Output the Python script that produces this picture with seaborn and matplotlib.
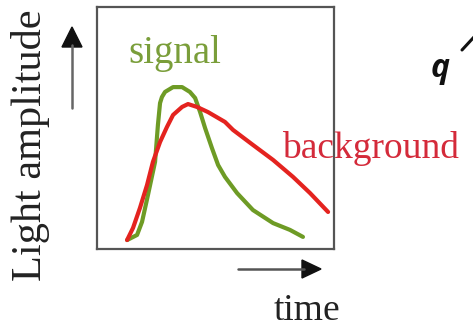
import matplotlib
matplotlib.use("Agg")
import matplotlib.pyplot as plt
import seaborn as sns
import pandas as pd

# Pulse shapes: time (arbitrary units) and light amplitude (normalised)
signal_time = [1.27, 1.69, 1.90, 2.15, 2.45, 2.57, 2.66, 2.74, 2.87, 3.21, 3.59,
               3.92, 4.14, 4.35, 4.56, 4.85, 5.11, 5.40, 5.91, 6.58, 7.43, 8.14,
               8.69]
signal_amp = [0.037, 0.058, 0.112, 0.223, 0.360, 0.512, 0.603, 0.628, 0.649,
              0.669, 0.669, 0.649, 0.624, 0.566, 0.500, 0.417, 0.347, 0.298,
              0.231, 0.161, 0.107, 0.079, 0.050]

background_time = [1.27, 1.52, 1.81, 2.11, 2.36, 2.66, 2.95, 3.21, 3.59, 3.84,
                   4.22, 4.68, 5.40, 5.74, 6.58, 7.43, 8.27, 8.99, 9.75]
background_amp = [0.037, 0.087, 0.169, 0.264, 0.360, 0.442, 0.504, 0.554, 0.587,
                  0.599, 0.587, 0.566, 0.525, 0.492, 0.430, 0.368, 0.298, 0.231,
                  0.153]

signal_label = "signal"
background_label = "background"
x_label = "time"
y_label = "Light amplitude"
side_label = "q"

sns.set_theme(style="white")
plt.rcParams["font.family"] = ["Liberation Serif", "DejaVu Serif"]

W, H = 473, 329
fig = plt.figure(figsize=(W / 100, H / 100), dpi=100)


def fx(px):
    return px / W


def fy(py):
    return 1 - py / H


ax = fig.add_axes([fx(97), fy(249), fx(334) - fx(97), fy(7) - fy(249)])

sig = pd.DataFrame({"time": signal_time, "amp": signal_amp})
bkg = pd.DataFrame({"time": background_time, "amp": background_amp})

sns.lineplot(data=sig, x="time", y="amp", ax=ax, color="#6e9b25", lw=3.0,
             sort=False, solid_capstyle="round", solid_joinstyle="round")
sns.lineplot(data=bkg, x="time", y="amp", ax=ax, color="#e4231f", lw=3.0,
             sort=False, solid_capstyle="round", solid_joinstyle="round")

ax.set_xlim(0, 10)
ax.set_ylim(0, 1)
ax.set_xticks([])
ax.set_yticks([])
ax.set_xlabel("")
ax.set_ylabel("")
for sp in ax.spines.values():
    sp.set_visible(True)
    sp.set_color("#555555")
    sp.set_linewidth(1.6)
    sp.set_zorder(5)

# Curve labels
fig.text(fx(128), fy(63), signal_label, color="#7a9e3a", fontsize=28,
         ha="left", va="baseline")
fig.text(fx(282), fy(158), background_label, color="#d42a3a", fontsize=27,
         ha="left", va="baseline", zorder=1)

# Axis titles
fig.text(fx(31), fy(145), y_label, rotation=90, fontsize=30.5, color="#222222",
         ha="center", va="center")
fig.text(fx(307), fy(320), x_label, fontsize=27, color="#222222",
         ha="center", va="baseline")

# Direction arrows: grey shafts with dark heads
fig.add_artist(matplotlib.lines.Line2D([fx(72), fx(72)], [fy(108), fy(45)],
                                       transform=fig.transFigure,
                                       color="#666666", lw=1.8))
fig.add_artist(matplotlib.patches.Polygon(
    [(fx(62), fy(47)), (fx(82), fy(47)), (fx(72), fy(27))],
    closed=True, transform=fig.transFigure, color="#111111"))
fig.add_artist(matplotlib.lines.Line2D([fx(238), fx(304)], [fy(269), fy(269)],
                                       transform=fig.transFigure,
                                       color="#555555", lw=1.8))
fig.add_artist(matplotlib.patches.Polygon(
    [(fx(302), fy(260)), (fx(302), fy(278)), (fx(321), fy(269))],
    closed=True, transform=fig.transFigure, color="#111111"))

# Side annotation
fig.text(fx(431), fy(77), side_label, fontsize=23, fontweight="bold",
         fontstyle="italic", family=["Open Sans", "DejaVu Sans"],
         color="#111111", ha="left", va="baseline")
fig.add_artist(matplotlib.lines.Line2D([fx(462), fx(474)], [fy(50), fy(37)],
                                       transform=fig.transFigure,
                                       color="#111111", lw=2.2))

fig.savefig("out.png", dpi=100)
